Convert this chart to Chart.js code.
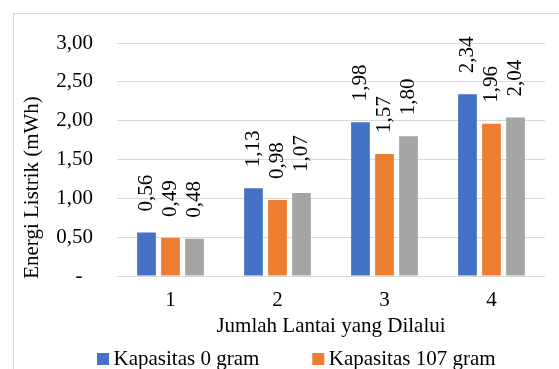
<!DOCTYPE html>
<html>
<head>
<meta charset="utf-8">
<script src="https://cdn.jsdelivr.net/npm/chart.js@4.4.1/dist/chart.umd.min.js"></script>
<style>
  html, body { margin: 0; padding: 0; width: 559px; height: 369px; overflow: hidden; background: #fff; }
  #frame { position: absolute; left: 13px; top: 13px; width: 567px; height: 400px; border: 1px solid #d9d9d9; }
  #chart { display: block; }
</style>
</head>
<body>
<div id="frame"><canvas id="chart" width="567" height="400"></canvas></div>
<script>
// Energy used per number of floors travelled, for three load capacities
const floors = ['1', '2', '3', '4'];
const seriesNames = ['Kapasitas 0 gram', 'Kapasitas 107 gram', 'Kapasitas 214 gram'];
const energy0 = [0.56, 1.13, 1.98, 2.34];
const energy107 = [0.49, 0.98, 1.57, 1.96];
const energy214 = [0.48, 1.07, 1.80, 2.04];
const yTickLabels = ['-', '0,50', '1,00', '1,50', '2,00', '2,50', '3,00'];
const seriesColors = ['#4472C4', '#ED7D31', '#A5A5A5'];

const FONT = '"Liberation Serif", "Times New Roman", serif';
const FONT_SIZE = 21;
Chart.defaults.font.family = FONT;
Chart.defaults.font.size = FONT_SIZE;
Chart.defaults.color = '#000';

// Small square legend swatches, drawn next to the legend text
function makeSwatch(color) {
  const cv = document.createElement('canvas');
  cv.width = 65;
  cv.height = 13;
  const g = cv.getContext('2d');
  g.fillStyle = color;
  g.fillRect(51, 0, 12, 12);
  return cv;
}
const swatches = seriesColors.map(makeSwatch);

// Vertical value labels above each bar
const valueLabels = {
  id: 'valueLabels',
  afterDatasetsDraw(chart) {
    const ctx = chart.ctx;
    ctx.save();
    ctx.font = FONT_SIZE + 'px ' + FONT;
    ctx.fillStyle = '#000';
    ctx.textAlign = 'left';
    ctx.textBaseline = 'middle';
    chart.data.datasets.forEach((ds, i) => {
      chart.getDatasetMeta(i).data.forEach((bar, j) => {
        const text = ds.data[j].toFixed(2).replace('.', ',');
        ctx.save();
        ctx.translate(bar.x, bar.y - 21);
        ctx.rotate(-Math.PI / 2);
        ctx.fillText(text, 0, 0);
        ctx.restore();
      });
    });
    ctx.restore();
  }
};

// Rotated y-axis title
const yTitle = {
  id: 'yTitle',
  afterDraw(chart) {
    const { ctx, chartArea } = chart;
    ctx.save();
    ctx.font = FONT_SIZE + 'px ' + FONT;
    ctx.fillStyle = '#000';
    ctx.textAlign = 'center';
    ctx.textBaseline = 'middle';
    ctx.translate(chartArea.left - 85, (chartArea.top + chartArea.bottom) / 2 + 28);
    ctx.rotate(-Math.PI / 2);
    ctx.fillText('Energi Listrik (mWh)', 0, 0);
    ctx.restore();
  }
};

const seriesData = [energy0, energy107, energy214];

new Chart(document.getElementById('chart'), {
  type: 'bar',
  data: {
    labels: floors,
    datasets: seriesData.map((d, i) => ({
      label: seriesNames[i],
      data: d,
      backgroundColor: seriesColors[i],
      borderWidth: 0,
      barPercentage: 0.78,
      categoryPercentage: 0.673
    }))
  },
  options: {
    responsive: false,
    animation: false,
    devicePixelRatio: 1,
    layout: { padding: { top: 29, left: 30, right: 36, bottom: 3 } },
    plugins: {
      tooltip: { enabled: false },
      legend: {
        position: 'bottom',
        align: 'start',
        labels: {
          color: '#000',
          padding: 10,
          usePointStyle: true,
          pointStyleWidth: 49,
          generateLabels(chart) {
            const items = Chart.defaults.plugins.legend.labels.generateLabels(chart);
            items.forEach(it => { it.pointStyle = swatches[it.datasetIndex]; });
            return items;
          }
        }
      }
    },
    scales: {
      x: {
        grid: { display: false, drawTicks: false },
        border: { display: false },
        ticks: { padding: 12, color: '#000' },
        title: {
          display: true,
          text: 'Jumlah Lantai yang Dilalui',
          color: '#000',
          padding: { top: 0, bottom: 0 }
        },
        afterFit(scale) { scale.height = 63; }
      },
      y: {
        min: 0,
        max: 3,
        grid: { color: '#d9d9d9', drawTicks: false },
        border: { display: false },
        ticks: {
          stepSize: 0.5,
          padding: 24,
          color: '#000',
          callback: (value, index) => {
            const t = yTickLabels[index];
            return t === '-' ? '-  ' : t;
          }
        },
        afterFit(scale) {
          scale.width = 73;
          scale.paddingTop = 12;
          scale.paddingBottom = 12;
        }
      }
    }
  },
  plugins: [valueLabels, yTitle]
});
</script>
</body>
</html>
